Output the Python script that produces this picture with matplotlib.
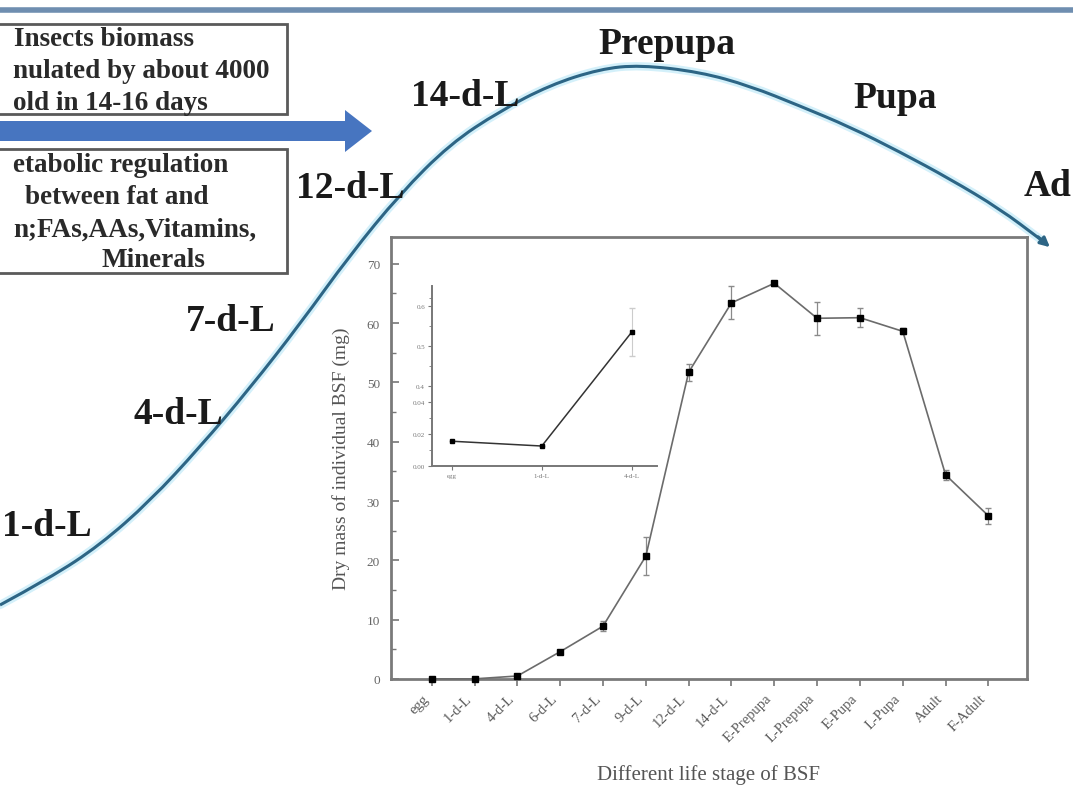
import numpy as np
import matplotlib
matplotlib.use("Agg")
import matplotlib.pyplot as plt
from matplotlib.patches import Rectangle, FancyArrow, PathPatch
from matplotlib.path import Path
from matplotlib.ticker import MultipleLocator, FixedLocator

plt.rcParams['font.family'] = ['Liberation Serif', 'DejaVu Serif']

# main chart data
stages = ['egg', '1-d-L', '4-d-L', '6-d-L', '7-d-L', '9-d-L', '12-d-L', '14-d-L',
          'E-Prepupa', 'L-Prepupa', 'E-Pupa', 'L-Pupa', 'Adult', 'F-Adult']
dry_mass = [0.02, 0.02, 0.5, 4.6, 8.9, 20.7, 51.7, 63.4, 66.7, 60.8, 60.9, 58.6, 34.4, 27.5]
dry_err = [0.0, 0.0, 0.1, 0.3, 0.8, 3.2, 1.4, 2.8, 0.4, 2.8, 1.6, 0.5, 0.8, 1.4]

# inset data (early stages)
inset_stages = ['egg', '1-d-L', '4-d-L']
inset_mass = [0.0155, 0.0125, 0.535]
inset_err = [0.0, 0.0, 0.06]
inset_ticks = [0.0, 0.02, 0.04, 0.4, 0.5, 0.6]
inset_ticklabels = ['0.00', '0.02', '0.04', '0.4', '0.5', '0.6']

# background growth curve (picture pixel space)
curve_x = [0, 50, 100, 150, 200, 250, 300, 350, 400, 450, 500, 550, 600, 640,
           700, 750, 800, 850, 900, 950, 1000, 1040]
curve_y = [606, 579, 546, 502, 448, 389, 325, 256, 195, 145, 112, 86, 70, 66,
           73, 87, 107, 128, 153, 180, 210, 240]
curve_labels = ['1-d-L', '4-d-L', '7-d-L', '12-d-L', '14-d-L', 'Prepupa', 'Pupa', 'Ad']
label_x = [2, 134, 186, 296, 411, 598, 853, 1024]
label_y = [527, 415, 322, 188, 97, 45, 98, 186]

box1_lines = ['Insects biomass', 'nulated by about 4000', 'old in 14-16 days']
box1_x = [14, 13, 13]
box1_y = [40, 72, 104]
box2_lines = ['etabolic regulation', 'between fat and', 'n;FAs,AAs,Vitamins,', 'Minerals']
box2_x = [13, 25, 13, 102]
box2_y = [166, 198, 230, 261]

fig = plt.figure(figsize=(10.73, 8.03), dpi=100)

bg = fig.add_axes([0, 0, 1, 1])
bg.set_xlim(0, 1073)
bg.set_ylim(803, 0)
bg.axis('off')

bg.plot([0, 1073], [11, 11], color='#6f8eb0', lw=4, solid_capstyle='butt')

# smooth the growth curve with quadratic bezier segments through the picked points
pts = np.column_stack([curve_x, curve_y]).astype(float)
verts = [pts[0]]
codes = [Path.MOVETO]
for i in range(1, len(pts) - 1):
    mid = (pts[i] + pts[i + 1]) / 2
    verts += [pts[i], mid]
    codes += [Path.CURVE3, Path.CURVE3]
verts.append(pts[-1])
codes.append(Path.LINETO)
path = Path(verts, codes)
bg.add_patch(PathPatch(path, fill=False, ec='#d3f0fa', lw=6, capstyle='round'))
bg.add_patch(PathPatch(path, fill=False, ec='#2d6585', lw=2.2))
bg.annotate('', xy=(1052, 250), xytext=(1036, 236),
            arrowprops=dict(arrowstyle='-|>', color='#2d6585', lw=2.2, mutation_scale=14))

for t, x, y in zip(curve_labels, label_x, label_y):
    bg.text(x, y, t, fontsize=27, fontweight='bold', color='#1a1a1a', ha='left', va='center')

bg.add_patch(Rectangle((-5, 25), 292, 90, fill=False, ec='#5a5a5a', lw=2))
bg.add_patch(Rectangle((-5, 150), 292, 124, fill=False, ec='#5a5a5a', lw=2))
for t, x, y in zip(box1_lines + box2_lines, box1_x + box2_x, box1_y + box2_y):
    bg.text(x, y, t, fontsize=19.5, fontweight='bold', color='#2a2a2a', ha='left', va='center')

bg.add_patch(FancyArrow(0, 132, 372, 0, width=20, head_width=42, head_length=27,
                        length_includes_head=True, color='#4775c0', lw=0))

# main chart
ax = fig.add_axes([0.3644, 0.1532, 0.5927, 0.5504])
xpos = np.arange(len(stages))
ax.errorbar(xpos, dry_mass, yerr=dry_err, color='#6b6b6b', lw=1.2, marker='s', ms=5,
            mfc='black', mec='black', ecolor='#8a8a8a', elinewidth=0.9, capsize=2.5,
            clip_on=False, zorder=3)
ax.set_xlim(-0.95, 13.9)
ax.set_ylim(0, 74.5)
ax.set_xticks(xpos)
ax.set_xticklabels(stages, rotation=45, ha='right', va='top', fontsize=10.5, color='#5a5a5a')
ax.yaxis.set_major_locator(MultipleLocator(10))
ax.yaxis.set_minor_locator(MultipleLocator(5))
ax.tick_params(axis='x', direction='out', length=5, width=1.2, color='#777777', pad=4)
ax.tick_params(axis='y', which='major', direction='in', length=6, width=1.2,
               color='#777777', labelsize=9.5, labelcolor='#666666', pad=8)
ax.tick_params(axis='y', which='minor', direction='in', length=3.5, width=1, color='#777777')
for s in ax.spines.values():
    s.set_color('#7a7a7a')
    s.set_linewidth(2)
ax.set_ylabel('Dry mass of individual BSF (mg)', fontsize=14, color='#555555', labelpad=12)
ax.set_xlabel('Different life stage of BSF', fontsize=15, color='#555555', labelpad=14)


def fwd(v):
    v = np.asarray(v, dtype=float)
    return np.where(v <= 0.04, v * 1600.0,
                    np.where(v <= 0.4, 64 + (v - 0.04) * (16 / 0.36), 80 + (v - 0.4) * 400.0))


def inv(p):
    p = np.asarray(p, dtype=float)
    return np.where(p <= 64, p / 1600.0,
                    np.where(p <= 80, 0.04 + (p - 64) * (0.36 / 16), 0.4 + (p - 80) / 400.0))


ins = fig.add_axes([0.4026, 0.4184, 0.2097, 0.2242])
ins.set_yscale('function', functions=(fwd, inv))
ins.errorbar(range(3), inset_mass, yerr=inset_err, color='#333333', lw=1.1, marker='s', ms=3,
             mfc='black', mec='black', ecolor='#cccccc', elinewidth=0.8, capsize=2)
ins.set_xlim(-0.22, 2.28)
ins.set_ylim(0, 0.65)
ins.set_xticks(range(3))
ins.set_xticklabels(inset_stages, fontsize=5, color='#777777')
ins.yaxis.set_major_locator(FixedLocator(inset_ticks))
ins.set_yticklabels(inset_ticklabels, fontsize=5, color='#777777')
ins.yaxis.set_minor_locator(FixedLocator([0.01, 0.03, 0.45, 0.55, 0.62]))
ins.tick_params(which='major', direction='out', length=3, width=0.8, color='#777777', pad=2)
ins.tick_params(which='minor', direction='out', length=2, width=0.6, color='#777777')
ins.spines['top'].set_visible(False)
ins.spines['right'].set_visible(False)
for s in ['left', 'bottom']:
    ins.spines[s].set_color('#777777')
    ins.spines[s].set_linewidth(1.4)
ins.patch.set_alpha(0)

fig.savefig('out.png', dpi=100)
